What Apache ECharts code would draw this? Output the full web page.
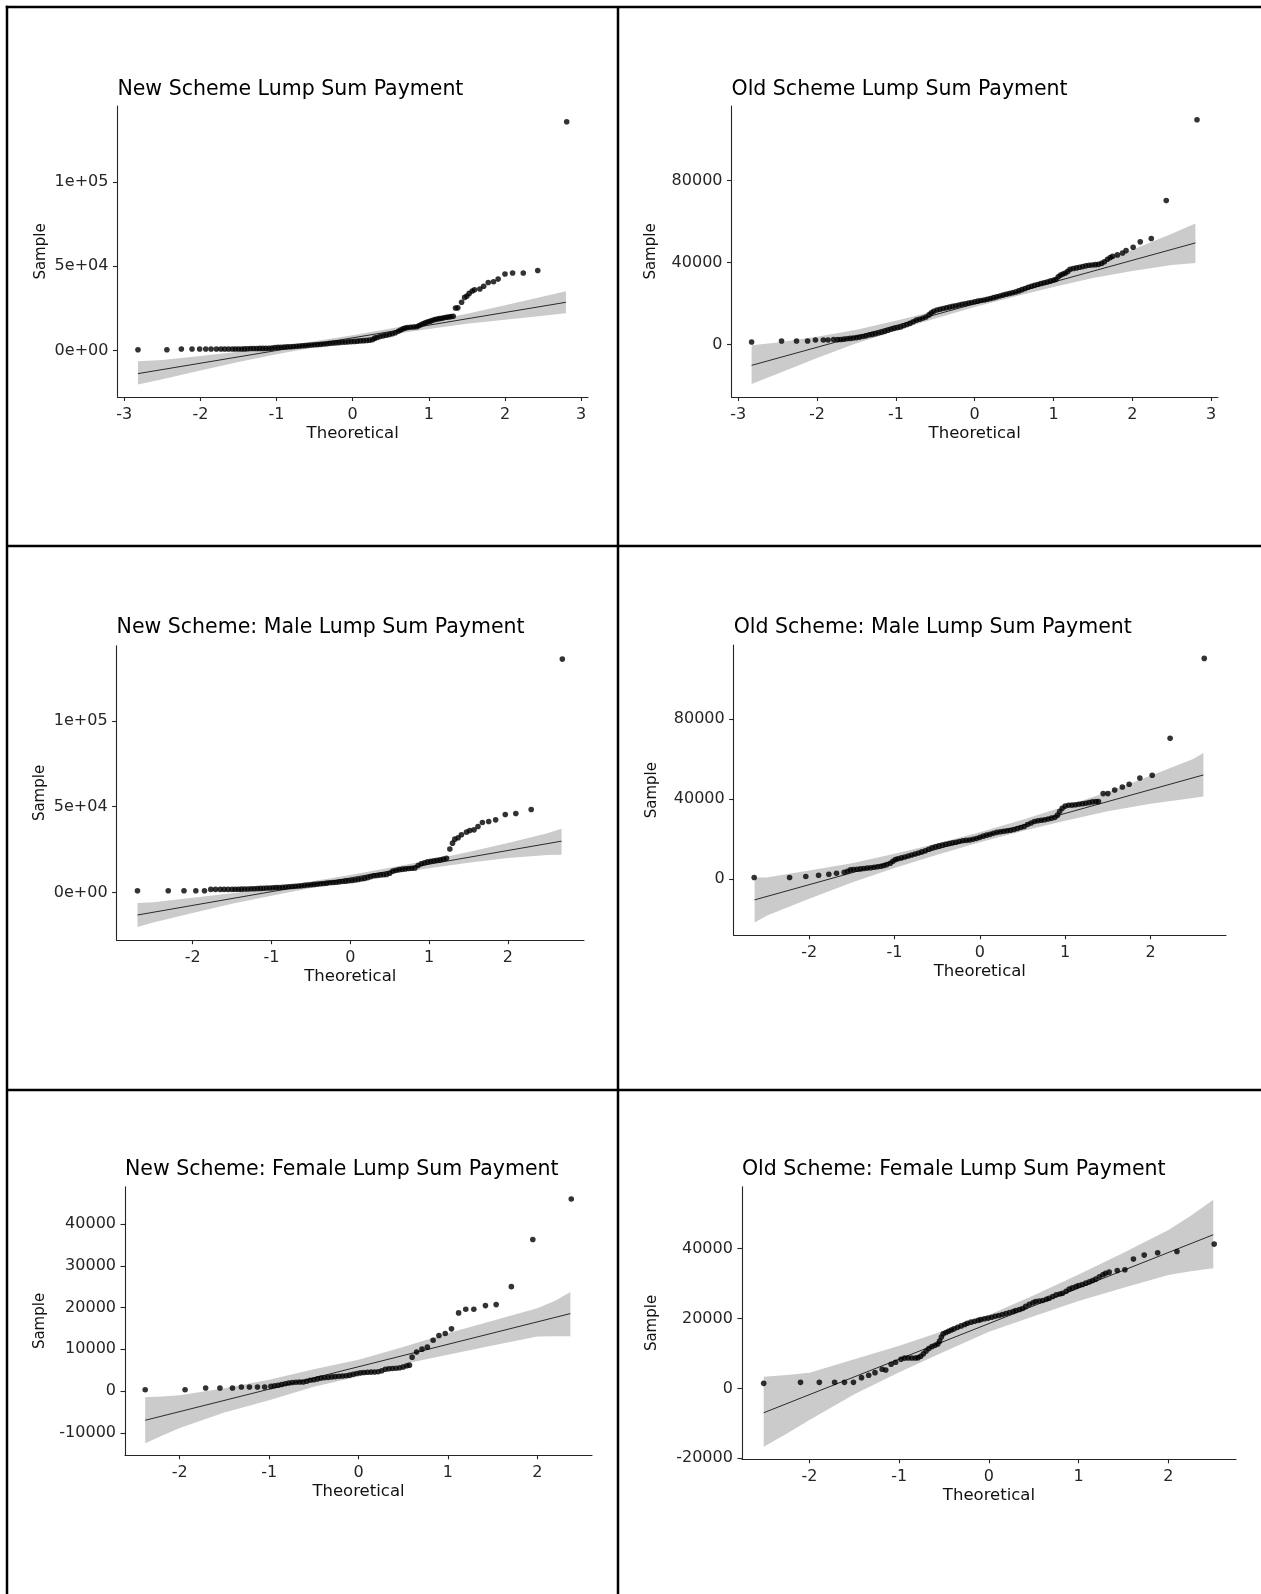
<!DOCTYPE html>
<html>
<head>
<meta charset="utf-8">
<script src="https://cdn.jsdelivr.net/npm/echarts@6/dist/echarts.min.js"></script>
<style>
  html, body { margin: 0; padding: 0; background: #ffffff; }
  #chart { width: 1261px; height: 1594px; }
</style>
</head>
<body>
<div id="chart"></div>
<script>
// ---------- Text ----------
const panelTitles = [
  'New Scheme Lump Sum Payment',
  'Old Scheme Lump Sum Payment',
  'New Scheme: Male Lump Sum Payment',
  'Old Scheme: Male Lump Sum Payment',
  'New Scheme: Female Lump Sum Payment',
  'Old Scheme: Female Lump Sum Payment'
];
const xAxisTitle = 'Theoretical';
const yAxisTitle = 'Sample';

// ---------- Tick values and labels ----------
const xTicksWide = [-3, -2, -1, 0, 1, 2, 3];
const xTicksNarrow = [-2, -1, 0, 1, 2];
const sciTicks = [0, 50000, 100000];
const sciTickText = ['0e+00', '5e+04', '1e+05'];
const oldTicks = [0, 40000, 80000];
const femaleNewTicks = [-10000, 0, 10000, 20000, 30000, 40000];
const femaleOldTicks = [-20000, 0, 20000, 40000];

// ---------- New scheme, all members: [theoretical, sample] ----------
const newAllPoints = [
  [-2.82, 400], [-2.44, 400], [-2.25, 800], [-2.11, 800], [-2.01, 800], [-1.93, 800], [-1.86, 800],
  [-1.79, 800], [-1.73, 800], [-1.68, 800], [-1.63, 800], [-1.58, 800], [-1.54, 800], [-1.50, 800],
  [-1.46, 800], [-1.42, 900], [-1.38, 1000], [-1.34, 1100], [-1.30, 1150], [-1.26, 1150], [-1.22, 1200],
  [-1.18, 1200], [-1.14, 1200], [-1.10, 1250], [-1.06, 1350], [-1.02, 1700], [-0.98, 1800], [-0.94, 1900],
  [-0.90, 2000], [-0.86, 2100], [-0.82, 2200], [-0.78, 2300], [-0.74, 2500], [-0.70, 2650], [-0.66, 2750],
  [-0.62, 2850], [-0.58, 3000], [-0.54, 3200], [-0.50, 3350], [-0.46, 3450], [-0.42, 3600], [-0.38, 3800],
  [-0.34, 4000], [-0.30, 4200], [-0.26, 4350], [-0.22, 4500], [-0.18, 4650], [-0.14, 4800], [-0.10, 4950],
  [-0.06, 5100], [-0.02, 5250], [0.02, 5350], [0.06, 5500], [0.10, 5650], [0.14, 5800], [0.18, 5950],
  [0.22, 6100], [0.26, 6400], [0.29, 7300], [0.32, 7700], [0.36, 8200], [0.40, 8650], [0.44, 9000],
  [0.48, 9450], [0.52, 9900], [0.56, 10500], [0.60, 11400], [0.63, 12100], [0.66, 12800], [0.69, 13300],
  [0.72, 13600], [0.76, 13750], [0.80, 13850], [0.84, 14100], [0.87, 14700], [0.90, 15350], [0.93, 16000],
  [0.96, 16500], [0.99, 17000], [1.02, 17400], [1.05, 17900], [1.08, 18400], [1.11, 18700], [1.14, 18900],
  [1.17, 19100], [1.20, 19400], [1.23, 19700], [1.26, 19900], [1.29, 20100], [1.32, 20300],
  [1.35, 25200], [1.38, 25300], [1.43, 28600], [1.47, 31500], [1.50, 32300], [1.53, 33900], [1.57, 35300],
  [1.60, 36100], [1.67, 36500], [1.72, 38100], [1.78, 40400], [1.85, 40800], [1.91, 42400],
  [2.00, 45400], [2.10, 46000], [2.24, 46000], [2.43, 47500], [2.81, 135900]
];
const newAllLine = [[-2.82, -13800], [2.80, 28600]];
const newAllBandX = [-2.82, -2.5, -2, -1.5, -1, -0.5, 0, 0.5, 1, 1.5, 2, 2.5, 2.80];
const newAllBandLo = [-20300, -17100, -11900, -6850, -2250, 1900, 5900, 9450, 12800, 15800, 18250, 20650, 22100];
const newAllBandHi = [-6500, -5700, -3300, -850, 2150, 5500, 9050, 13050, 17200, 21800, 26850, 32050, 35100];

// ---------- Old scheme, all members ----------
const oldAllPoints = [
  [-2.83, 1300], [-2.45, 1800], [-2.26, 1800], [-2.12, 1800], [-2.02, 2300], [-1.92, 2300], [-1.86, 2300],
  [-1.79, 2500], [-1.74, 2450], [-1.70, 2550], [-1.66, 2700], [-1.62, 2850], [-1.58, 3050], [-1.54, 3250],
  [-1.50, 3450], [-1.46, 3700], [-1.42, 3950], [-1.38, 4300], [-1.34, 4700], [-1.30, 5000], [-1.26, 5300],
  [-1.22, 5650], [-1.18, 6000], [-1.14, 6500], [-1.10, 7000], [-1.06, 7500], [-1.02, 7950], [-0.98, 8250],
  [-0.94, 8600], [-0.90, 9200], [-0.86, 9800], [-0.82, 10400], [-0.78, 11200], [-0.74, 11950], [-0.70, 12400],
  [-0.66, 12900], [-0.62, 13500], [-0.58, 14500], [-0.55, 15500], [-0.52, 16300], [-0.48, 16900], [-0.44, 17250],
  [-0.40, 17600], [-0.36, 17950], [-0.32, 18300], [-0.28, 18650], [-0.24, 18950], [-0.20, 19300], [-0.16, 19650],
  [-0.12, 19950], [-0.08, 20250], [-0.04, 20550], [0.00, 20900], [0.04, 21200], [0.08, 21500], [0.12, 21800],
  [0.16, 22100], [0.20, 22500], [0.24, 22900], [0.28, 23300], [0.32, 23750], [0.36, 24150], [0.40, 24550],
  [0.44, 24950], [0.48, 25300], [0.52, 25700], [0.56, 26200], [0.60, 26800], [0.64, 27400], [0.68, 28000],
  [0.72, 28450], [0.76, 28900], [0.80, 29350], [0.84, 29800], [0.88, 30200], [0.92, 30550], [0.96, 30950],
  [1.00, 31400], [1.03, 31750], [1.06, 33100], [1.09, 33900], [1.12, 34400], [1.15, 34900], [1.18, 35700],
  [1.21, 36700], [1.25, 37100], [1.29, 37400], [1.33, 37700], [1.37, 38050], [1.41, 38400], [1.45, 38700],
  [1.49, 38850], [1.53, 39000], [1.57, 39150], [1.61, 39600], [1.645, 40400], [1.685, 41600], [1.72, 42500],
  [1.75, 43100], [1.81, 43750], [1.875, 44700], [1.92, 45850], [2.01, 47500], [2.10, 50100], [2.24, 51700],
  [2.43, 70200], [2.82, 109600]
];
const oldAllLine = [[-2.83, -10080], [2.80, 49590]];
const oldAllBandX = [-2.83, -2.5, -2, -1.5, -1, -0.5, 0, 0.5, 1, 1.5, 2, 2.5, 2.80];
const oldAllBandLo = [-19200, -14200, -6500, 700, 6900, 12800, 18400, 23400, 28100, 32500, 35900, 38800, 39850];
const oldAllBandHi = [-300, 1000, 3900, 7300, 11700, 16400, 21400, 27000, 32900, 39100, 46300, 54000, 59000];

// ---------- New scheme, male ----------
const newMalePoints = [
  [-2.70, 970], [-2.31, 970], [-2.11, 970], [-1.96, 970], [-1.85, 970], [-1.77, 1750], [-1.71, 1750],
  [-1.65, 1750], [-1.60, 1750], [-1.55, 1750], [-1.50, 1750], [-1.46, 1800], [-1.42, 1850], [-1.38, 1900],
  [-1.34, 1950], [-1.30, 2000], [-1.26, 2100], [-1.22, 2150], [-1.18, 2250], [-1.14, 2330], [-1.10, 2400],
  [-1.06, 2500], [-1.02, 2600], [-0.98, 2700], [-0.94, 2800], [-0.90, 2880], [-0.86, 2950], [-0.82, 3100],
  [-0.78, 3300], [-0.74, 3450], [-0.70, 3600], [-0.66, 3750], [-0.62, 3900], [-0.58, 4100], [-0.54, 4300],
  [-0.50, 4500], [-0.46, 4650], [-0.42, 4850], [-0.38, 5050], [-0.34, 5200], [-0.30, 5400], [-0.26, 5600],
  [-0.22, 5750], [-0.18, 5950], [-0.14, 6150], [-0.10, 6350], [-0.06, 6550], [-0.02, 6750], [0.02, 6900],
  [0.06, 7200], [0.10, 7550], [0.14, 7850], [0.18, 8150], [0.22, 8600], [0.26, 9200], [0.30, 9700],
  [0.34, 9900], [0.38, 10100], [0.42, 10300], [0.46, 10500], [0.50, 11200], [0.54, 12400], [0.58, 12900],
  [0.62, 13300], [0.66, 13550], [0.70, 13750], [0.74, 13900], [0.78, 14050], [0.82, 14300], [0.86, 15700],
  [0.90, 16700], [0.94, 17300], [0.98, 17800], [1.02, 18150], [1.06, 18450], [1.10, 18750], [1.14, 19000],
  [1.18, 19400], [1.22, 19900], [1.263, 25250], [1.297, 28740], [1.326, 31070], [1.368, 31850], [1.41, 33600],
  [1.474, 35150], [1.516, 36120], [1.57, 36510], [1.62, 38450], [1.676, 40780], [1.756, 41360], [1.844, 42340],
  [1.966, 45440], [2.10, 46020], [2.295, 48350], [2.69, 136130]
];
const newMaleLine = [[-2.70, -13200], [2.68, 29900]];
const newMaleBandX = [-2.70, -2.5, -2, -1.5, -1, -0.5, 0, 0.5, 1, 1.5, 2, 2.5, 2.68];
const newMaleBandLo = [-20200, -17500, -12000, -6700, -1900, 2500, 6700, 10550, 14150, 17350, 20050, 21800, 21950];
const newMaleBandHi = [-6200, -5700, -3200, -500, 2700, 6300, 10150, 14350, 18750, 23550, 28850, 34500, 37100];

// ---------- Old scheme, male ----------
const oldMalePoints = [
  [-2.645, 830], [-2.23, 830], [-2.04, 1330], [-1.89, 2000], [-1.77, 2490], [-1.68, 2990], [-1.59, 3490],
  [-1.55, 4000], [-1.516, 4660], [-1.48, 4800], [-1.44, 4990], [-1.40, 5150], [-1.36, 5320], [-1.32, 5550],
  [-1.28, 5750], [-1.24, 5990], [-1.20, 6250], [-1.16, 6500], [-1.125, 6820], [-1.09, 7300], [-1.05, 7980],
  [-1.02, 9000], [-0.99, 9800], [-0.96, 10200], [-0.92, 10650], [-0.88, 11100], [-0.84, 11600], [-0.80, 12100],
  [-0.76, 12600], [-0.72, 13100], [-0.68, 13650], [-0.64, 14200], [-0.60, 15000], [-0.56, 15700], [-0.52, 16200],
  [-0.48, 16650], [-0.44, 17100], [-0.40, 17450], [-0.36, 17800], [-0.32, 18150], [-0.28, 18450], [-0.24, 18800],
  [-0.20, 19200], [-0.16, 19400], [-0.12, 19600], [-0.08, 19900], [-0.04, 20300], [0.00, 20900], [0.04, 21500],
  [0.08, 22000], [0.12, 22400], [0.16, 22900], [0.20, 23400], [0.24, 23700], [0.28, 23950], [0.32, 24200],
  [0.36, 24450], [0.40, 24850], [0.44, 25300], [0.48, 25800], [0.52, 26300], [0.56, 27300], [0.60, 28100],
  [0.64, 28800], [0.68, 29200], [0.72, 29450], [0.76, 29700], [0.80, 30100], [0.84, 30500], [0.88, 30900],
  [0.91, 32000], [0.935, 33800], [0.965, 35400], [1.00, 36500], [1.04, 36900], [1.08, 37000], [1.12, 37200],
  [1.16, 37450], [1.20, 37700], [1.24, 37950], [1.28, 38250], [1.32, 38600], [1.36, 38750], [1.39, 38750],
  [1.445, 42740], [1.50, 42740], [1.58, 44570], [1.67, 46070], [1.75, 47400], [1.875, 50560], [2.02, 51890],
  [2.23, 70350], [2.63, 110270]
];
const oldMaleLine = [[-2.64, -10310], [2.62, 52060]];
const oldMaleBandX = [-2.64, -2.5, -2, -1.5, -1, -0.5, 0, 0.5, 1, 1.5, 2, 2.5, 2.62];
const oldMaleBandLo = [-21600, -18200, -9700, -1600, 5550, 12250, 18500, 24100, 29250, 34000, 37700, 40600, 41250];
const oldMaleBandHi = [800, 900, 4300, 8000, 12750, 17850, 23500, 29700, 36450, 43600, 51700, 60000, 63000];

// ---------- New scheme, female ----------
const newFemalePoints = [
  [-2.386, 320], [-1.94, 320], [-1.71, 720], [-1.55, 720], [-1.41, 720], [-1.31, 960], [-1.22, 960],
  [-1.13, 960], [-1.05, 960], [-0.98, 1110], [-0.94, 1250], [-0.90, 1380], [-0.86, 1550], [-0.82, 1750],
  [-0.78, 1920], [-0.74, 2050], [-0.70, 2100], [-0.66, 2150], [-0.62, 2150], [-0.58, 2350], [-0.54, 2580],
  [-0.50, 2710], [-0.46, 2900], [-0.42, 3100], [-0.38, 3180], [-0.34, 3270], [-0.30, 3380], [-0.26, 3450],
  [-0.22, 3540], [-0.18, 3600], [-0.14, 3660], [-0.10, 3800], [-0.06, 4000], [-0.02, 4200], [0.02, 4350],
  [0.06, 4430], [0.10, 4480], [0.14, 4530], [0.18, 4570], [0.22, 4610], [0.26, 4850], [0.30, 5200],
  [0.34, 5350], [0.38, 5410], [0.42, 5470], [0.46, 5580], [0.50, 5780], [0.54, 6050], [0.57, 6200],
  [0.60, 8120], [0.65, 9320], [0.71, 10030], [0.77, 10510], [0.835, 12180], [0.90, 13300], [0.97, 13770],
  [1.04, 14890], [1.12, 18710], [1.20, 19590], [1.29, 19590], [1.42, 20460], [1.54, 20700], [1.71, 25000],
  [1.95, 36310], [2.38, 46020]
];
const newFemaleLine = [[-2.386, -7010], [2.37, 18550]];
const newFemaleBandX = [-2.386, -2.2, -2, -1.5, -1, -0.5, 0, 0.5, 1, 1.5, 2, 2.2, 2.37];
const newFemaleBandLo = [-12500, -10700, -8840, -5150, -2230, 1000, 3500, 6450, 8680, 10900, 13060, 13100, 13140];
const newFemaleBandHi = [-1510, -1300, -1035, 650, 2710, 5200, 7480, 10550, 13850, 16850, 19820, 21600, 23730];

// ---------- Old scheme, female ----------
const oldFemalePoints = [
  [-2.51, 1430], [-2.10, 1720], [-1.89, 1720], [-1.72, 1720], [-1.61, 1720], [-1.51, 1720], [-1.42, 3060],
  [-1.34, 3730], [-1.27, 4490], [-1.19, 5450], [-1.15, 5250], [-1.09, 6880], [-1.04, 7450], [-0.98, 8310],
  [-0.94, 8650], [-0.90, 8700], [-0.86, 8700], [-0.82, 8700], [-0.79, 8790], [-0.76, 9200], [-0.73, 9900],
  [-0.70, 10700], [-0.67, 11400], [-0.635, 11940], [-0.60, 12300], [-0.57, 12710], [-0.55, 13500], [-0.53, 14700],
  [-0.51, 15600], [-0.48, 16000], [-0.45, 16350], [-0.42, 16700], [-0.39, 17010], [-0.35, 17450], [-0.31, 17870],
  [-0.27, 18250], [-0.24, 18630], [-0.20, 18950], [-0.16, 19210], [-0.12, 19450], [-0.09, 19680], [-0.05, 19900],
  [-0.01, 20100], [0.03, 20350], [0.07, 20600], [0.11, 20850], [0.15, 21120], [0.19, 21400], [0.23, 21690],
  [0.27, 22000], [0.30, 22270], [0.34, 22550], [0.375, 22840], [0.41, 23450], [0.45, 24080], [0.49, 24500],
  [0.52, 24840], [0.56, 25000], [0.60, 25130], [0.64, 25500], [0.67, 25800], [0.71, 26300], [0.75, 26760],
  [0.79, 27000], [0.82, 27230], [0.86, 27800], [0.895, 28380], [0.93, 28750], [0.97, 29140], [1.00, 29450],
  [1.04, 29720], [1.08, 30100], [1.12, 30480], [1.155, 30850], [1.19, 31250], [1.23, 31900], [1.27, 32490],
  [1.30, 32900], [1.34, 33250], [1.43, 33730], [1.515, 33920], [1.61, 36980], [1.73, 38130], [1.88, 38800],
  [2.095, 39180], [2.51, 41280]
];
const oldFemaleLine = [[-2.51, -6980], [2.50, 43960]];
const oldFemaleBandX = [-2.51, -2.25, -2, -1.5, -1, -0.5, 0, 0.5, 1, 1.5, 2, 2.25, 2.50];
const oldFemaleBandLo = [-16720, -12900, -9080, -1700, 4600, 10450, 16200, 20600, 24960, 28800, 32440, 33500, 34400];
const oldFemaleBandHi = [3340, 3850, 4490, 8300, 12200, 16450, 21000, 26650, 32560, 38800, 45340, 49400, 54000];

// ---------- Panel layout (pixels) and axis extents ----------
const panels = [
  { points: newAllPoints, line: newAllLine, bx: newAllBandX, lo: newAllBandLo, hi: newAllBandHi,
    grid: { left: 117.4, top: 106, width: 470.6, height: 291 }, xr: [-3.09, 3.09], yr: [-27700, 145300],
    xt: xTicksWide, yt: sciTicks, ytText: sciTickText, nameGap: 69, titleTop: 80 },
  { points: oldAllPoints, line: oldAllLine, bx: oldAllBandX, lo: oldAllBandLo, hi: oldAllBandHi,
    grid: { left: 731.5, top: 106, width: 486.4, height: 291 }, xr: [-3.085, 3.085], yr: [-25500, 116300],
    xt: xTicksWide, yt: oldTicks, ytText: null, nameGap: 73, titleTop: 80 },
  { points: newMalePoints, line: newMaleLine, bx: newMaleBandX, lo: newMaleBandLo, hi: newMaleBandHi,
    grid: { left: 116.6, top: 645.8, width: 467.4, height: 294.4 }, xr: [-2.965, 2.965], yr: [-27900, 143900],
    xt: xTicksNarrow, yt: sciTicks, ytText: sciTickText, nameGap: 68.5, titleTop: 618 },
  { points: oldMalePoints, line: oldMaleLine, bx: oldMaleBandX, lo: oldMaleBandLo, hi: oldMaleBandHi,
    grid: { left: 733.7, top: 645.1, width: 492.3, height: 290.2 }, xr: [-2.885, 2.885], yr: [-28000, 116900],
    xt: xTicksNarrow, yt: oldTicks, ytText: null, nameGap: 74, titleTop: 618 },
  { points: newFemalePoints, line: newFemaleLine, bx: newFemaleBandX, lo: newFemaleBandLo, hi: newFemaleBandHi,
    grid: { left: 125, top: 1186.7, width: 467, height: 268.6 }, xr: [-2.612, 2.612], yr: [-15400, 48950],
    xt: xTicksNarrow, yt: femaleNewTicks, ytText: null, nameGap: 77.5, titleTop: 1160 },
  { points: oldFemalePoints, line: oldFemaleLine, bx: oldFemaleBandX, lo: oldFemaleBandLo, hi: oldFemaleBandHi,
    grid: { left: 741.9, top: 1186.7, width: 494.1, height: 272.6 }, xr: [-2.753, 2.753], yr: [-20300, 57700],
    xt: xTicksNarrow, yt: femaleOldTicks, ytText: null, nameGap: 82, titleTop: 1160 }
];

const FONT = 'DejaVu Sans';
const axisInk = '#262626';
const tickInk = '#262626';

const grids = [], xAxes = [], yAxes = [], series = [], titles = [];

panels.forEach(function (p, i) {
  grids.push(Object.assign({ containLabel: false }, p.grid));

  titles.push({
    text: panelTitles[i],
    left: p.grid.left,
    top: p.titleTop,
    padding: 0,
    textStyle: { fontFamily: FONT, fontSize: 20.5, fontWeight: 'normal', color: '#000000', lineHeight: 20 }
  });

  xAxes.push({
    type: 'value', gridIndex: i, min: p.xr[0], max: p.xr[1],
    name: xAxisTitle, nameLocation: 'middle', nameGap: 28,
    nameTextStyle: { fontFamily: FONT, fontSize: 16.5, color: '#111111', lineHeight: 16.5 },
    axisLine: { show: true, onZero: false, lineStyle: { color: axisInk, width: 1.1 } },
    axisTick: { show: true, inside: false, length: 4, customValues: p.xt, lineStyle: { color: axisInk, width: 1.1 } },
    axisLabel: { show: true, margin: 10, customValues: p.xt, fontFamily: FONT, fontSize: 16, color: tickInk, lineHeight: 16,
      formatter: function (v) { return String(v); } },
    splitLine: { show: false }
  });

  yAxes.push({
    type: 'value', gridIndex: i, min: p.yr[0], max: p.yr[1],
    name: yAxisTitle, nameLocation: 'middle', nameGap: p.nameGap, nameRotate: 90,
    nameTextStyle: { fontFamily: FONT, fontSize: 15, color: '#111111' },
    axisLine: { show: true, onZero: false, lineStyle: { color: axisInk, width: 1.1 } },
    axisTick: { show: true, inside: false, length: 4.5, customValues: p.yt, lineStyle: { color: axisInk, width: 1.1 } },
    axisLabel: { show: true, margin: 9, customValues: p.yt, fontFamily: FONT, fontSize: 16, color: tickInk,
      formatter: function (v) {
        if (p.ytText) {
          const k = p.yt.indexOf(v);
          return k >= 0 ? p.ytText[k] : String(v);
        }
        return String(v);
      } },
    splitLine: { show: false }
  });

  // confidence band as one filled polygon
  const bandRows = p.bx.map(function (x, k) { return [x, p.lo[k], p.hi[k]]; });
  series.push({
    type: 'custom', xAxisIndex: i, yAxisIndex: i, silent: true, z: 1,
    data: bandRows,
    encode: { x: 0, y: [1, 2] },
    renderItem: function (params, api) {
      if (params.dataIndex !== 0) return null;
      const upper = bandRows.map(function (r) { return api.coord([r[0], r[2]]); });
      const lower = bandRows.map(function (r) { return api.coord([r[0], r[1]]); }).reverse();
      return { type: 'polygon', shape: { points: upper.concat(lower) }, style: { fill: '#cbcbcb', stroke: null } };
    }
  });

  // reference line
  series.push({
    type: 'line', xAxisIndex: i, yAxisIndex: i, data: p.line, symbol: 'none', silent: true, z: 2,
    lineStyle: { color: '#000000', width: 0.8 }
  });

  // sample quantiles
  series.push({
    type: 'scatter', xAxisIndex: i, yAxisIndex: i, data: p.points, symbol: 'circle', symbolSize: 5.6,
    silent: true, z: 3, itemStyle: { color: '#000000' }
  });
});

// frame lines separating the six panels
const frame = { stroke: '#000000', lineWidth: 2.5 };
const graphics = [
  { type: 'line', shape: { x1: 5.75, y1: 7, x2: 1261, y2: 7 }, style: frame },
  { type: 'line', shape: { x1: 7, y1: 5.75, x2: 7, y2: 1594 }, style: frame },
  { type: 'line', shape: { x1: 618, y1: 7, x2: 618, y2: 1594 }, style: frame },
  { type: 'line', shape: { x1: 7, y1: 546, x2: 1261, y2: 546 }, style: frame },
  { type: 'line', shape: { x1: 7, y1: 1090, x2: 1261, y2: 1090 }, style: frame }
];

const chart = echarts.init(document.getElementById('chart'), null, { renderer: 'canvas' });
chart.setOption({
  backgroundColor: '#ffffff',
  animation: false,
  title: titles,
  grid: grids,
  xAxis: xAxes,
  yAxis: yAxes,
  series: series,
  graphic: graphics
});
</script>
</body>
</html>
